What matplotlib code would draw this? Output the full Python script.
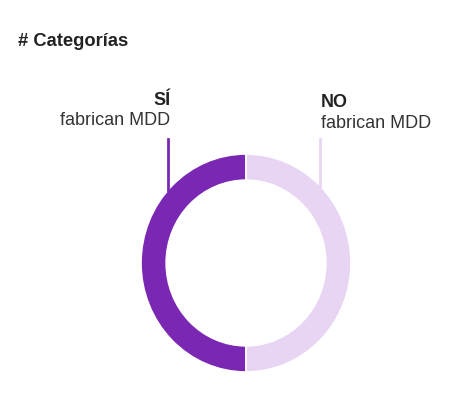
import matplotlib
matplotlib.use("Agg")
import matplotlib.pyplot as plt
import numpy as np

categories = ["SÍ", "NO"]
sublabels = ["fabrican MDD", "fabrican MDD"]
values = [50, 50]
colors = ["#7A28B4", "#E8D5F4"]
title = "# Categorías"

W, H = 462, 414
fig = plt.figure(figsize=(W/100, H/100), dpi=100)
plt.rcParams['font.family'] = ['Liberation Sans', 'DejaVu Sans']

cx, cy, Rx, Ry = 246, 264, 105, 109
ax = fig.add_axes([(cx-Rx)/W, (H-cy-Ry)/H, 2*Rx/W, 2*Ry/H])
wedges, _ = ax.pie(values, colors=colors, startangle=90, counterclock=True,
                   radius=1.0, wedgeprops=dict(width=0.24, edgecolor="white", linewidth=1.2))
ax.set_xlim(-1, 1); ax.set_ylim(-1, 1)
ax.set_aspect('auto')
ax.axis('off')

fig.text(18/W, 1-42/H, title, fontsize=13.2, fontweight='bold', color='#222222', va='center', ha='left')

# leader lines and labels
angles = [137.7, 45.2]
ha = ['right', 'left']
dx = [0.02, 0.01]
cat_y = [1.50, 1.485]
sub_y = [1.315, 1.29]
for i, (cat, sub) in enumerate(zip(categories, sublabels)):
    a = np.deg2rad(angles[i])
    x0, y0 = np.cos(a)*1.0, np.sin(a)*1.0
    ax.plot([x0, x0], [y0, 1.14], color=colors[i], lw=2, clip_on=False)
    tx = x0 + dx[i]
    ax.text(tx, cat_y[i], cat, fontsize=13, fontweight='bold',
            ha=ha[i], va='center', color='#222222', transform=ax.transData)
    ax.text(tx, sub_y[i], sub, fontsize=13,
            ha=ha[i], va='center', color='#333333', transform=ax.transData)

fig.savefig("out.png", dpi=100)
